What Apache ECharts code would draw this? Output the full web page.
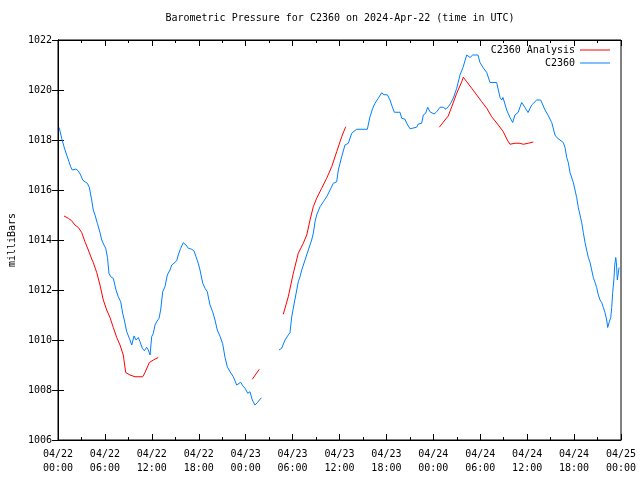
<!DOCTYPE html>
<html>
<head>
<meta charset="utf-8">
<script src="https://cdn.jsdelivr.net/npm/echarts@6/dist/echarts.min.js"></script>
<style>html,body{margin:0;padding:0;background:#fff}#c{width:640px;height:480px}</style>
</head>
<body>
<div id="c"></div>
<script>
// Time in hours since 2024-04-22 00:00 UTC; null marks a data gap
var obsHours = [0.15,0.47,0.77,1.11,1.41,1.62,1.83,2.05,2.30,2.60,2.90,3.16,3.45,3.75,4.00,4.31,4.51,4.73,5.03,5.37,5.59,5.88,6.10,6.33,6.52,6.74,7.07,7.42,7.71,8.02,8.27,8.48,8.79,9.12,9.43,9.72,9.98,10.27,10.49,10.78,11.04,11.34,11.55,11.77,11.98,12.19,12.41,12.62,12.92,13.13,13.39,13.68,13.98,14.32,14.54,14.83,15.18,15.38,15.69,16.02,16.37,16.66,17.10,17.39,17.65,17.94,18.16,18.51,18.80,19.09,19.44,19.78,20.08,20.37,20.72,21.06,21.36,21.65,22.00,22.42,22.85,23.06,23.37,23.62,23.92,24.26,24.55,24.85,25.19,25.49,25.74,26.00,
27.0,
28.26,28.61,29.03,29.45,29.67,29.89,30.09,30.31,30.53,30.73,30.95,31.17,31.59,32.01,32.44,32.65,32.87,33.08,33.51,33.93,34.36,34.79,35.21,35.64,35.85,36.28,36.70,37.13,37.56,38.20,39.56,39.90,40.25,40.54,40.96,41.40,41.69,42.11,42.46,42.75,43.01,43.74,43.95,44.38,44.59,45.02,45.23,45.87,46.08,46.51,46.72,47.02,47.28,47.57,48.09,48.43,48.85,49.27,49.62,49.91,50.22,50.55,50.99,51.41,51.79,52.27,52.69,53.04,53.71,53.97,54.35,54.83,55.25,55.63,56.10,56.53,56.74,56.91,57.38,57.80,58.15,58.44,58.83,59.30,59.72,60.11,60.58,61.22,61.73,62.28,62.66,63.14,63.56,63.78,64.20,64.62,64.84,65.06,65.26,65.48,65.90,66.12,66.33,66.54,66.76,66.97,67.18,67.40,67.61,67.82,68.04,68.25,68.46,68.68,68.89,69.10,69.32,69.53,69.74,69.95,70.17,70.30,70.47,70.69,70.81,70.94,71.11,71.20,71.33,71.41,71.53,71.62,71.75];
var obsPressure = [1018.5,1018.07,1017.73,1017.4,1017.13,1016.93,1016.8,1016.73,1016.84,1016.76,1016.6,1016.4,1016.33,1016.27,1016.11,1015.6,1015.2,1015.0,1014.67,1014.3,1014.0,1013.8,1013.67,1013.3,1012.67,1012.53,1012.47,1012.0,1011.73,1011.53,1011.07,1010.8,1010.33,1010.07,1009.8,1010.16,1010.0,1010.1,1009.93,1009.67,1009.57,1009.71,1009.6,1009.4,1010.13,1010.27,1010.6,1010.73,1010.87,1011.2,1011.93,1012.13,1012.6,1012.8,1013.0,1013.07,1013.17,1013.4,1013.67,1013.89,1013.8,1013.67,1013.63,1013.57,1013.33,1013.07,1012.8,1012.27,1012.07,1011.93,1011.4,1011.13,1010.8,1010.4,1010.15,1009.85,1009.3,1008.93,1008.73,1008.53,1008.2,1008.2,1008.31,1008.17,1008.07,1007.87,1007.93,1007.6,1007.4,1007.49,1007.53,1007.69,
null,
1009.6,1009.67,1010.0,1010.2,1010.3,1010.93,1011.27,1011.33,1012.0,1012.33,1012.53,1012.8,1013.2,1013.6,1014.0,1014.27,1014.73,1015.0,1015.33,1015.53,1015.73,1016.0,1016.27,1016.33,1016.8,1017.33,1017.8,1017.87,1018.27,1018.43,1018.43,1018.93,1019.27,1019.47,1019.67,1019.89,1019.81,1019.81,1019.6,1019.33,1019.11,1019.11,1018.87,1018.83,1018.67,1018.45,1018.51,1018.51,1018.64,1018.67,1019.0,1019.07,1019.31,1019.13,1019.04,1019.13,1019.31,1019.31,1019.23,1019.33,1019.47,1019.67,1020.07,1020.6,1020.9,1021.4,1021.3,1021.4,1021.4,1021.1,1020.9,1020.7,1020.3,1020.3,1020.3,1019.7,1019.6,1019.7,1019.2,1018.9,1018.7,1019.0,1019.1,1019.5,1019.3,1019.1,1019.4,1019.6,1019.6,1019.2,1019.0,1018.7,1018.2,1018.1,1018.0,1017.9,1017.7,1017.3,1017.1,1016.7,1016.3,1016.0,1015.7,1015.3,1015.0,1014.7,1014.3,1013.9,1013.6,1013.3,1013.1,1012.8,1012.5,1012.3,1012.1,1011.8,1011.6,1011.5,1011.3,1011.1,1010.8,1010.5,1010.7,1010.9,1011.3,1011.9,1012.5,1013.0,1013.3,1013.1,1012.4,1012.6,1012.9];

var anaHours = [0.77,1.32,1.75,2.17,2.60,3.03,3.45,3.88,4.31,4.51,4.95,5.37,5.79,6.23,6.65,7.07,7.51,7.93,8.35,8.66,9.21,9.85,10.83,11.13,11.68,12.19,12.83,
18.0,
24.85,25.74,
27.0,
28.81,29.45,30.09,30.73,31.37,31.81,32.23,32.65,33.08,33.72,34.36,35.00,35.64,36.28,36.79,
42.0,
48.76,49.49,49.91,50.35,50.99,51.63,51.83,52.27,52.91,53.55,54.19,54.83,55.46,56.31,56.95,57.46,57.80,58.44,59.08,59.50,60.15,60.78];
var anaPressure = [1014.96,1014.87,1014.77,1014.6,1014.5,1014.3,1013.93,1013.6,1013.24,1013.1,1012.7,1012.2,1011.6,1011.2,1010.9,1010.5,1010.1,1009.8,1009.4,1008.7,1008.6,1008.53,1008.53,1008.7,1009.1,1009.2,1009.3,
null,
1008.43,1008.83,
null,
1011.03,1011.73,1012.67,1013.47,1013.87,1014.2,1014.8,1015.33,1015.67,1016.07,1016.47,1016.93,1017.53,1018.13,1018.53,
null,
1018.51,1018.8,1018.96,1019.33,1019.87,1020.33,1020.51,1020.33,1020.07,1019.8,1019.53,1019.27,1018.93,1018.6,1018.33,1018.0,1017.83,1017.87,1017.87,1017.83,1017.87,1017.92];

var xTickLabels = ["04/22\n00:00","04/22\n06:00","04/22\n12:00","04/22\n18:00","04/23\n00:00","04/23\n06:00","04/23\n12:00","04/23\n18:00","04/24\n00:00","04/24\n06:00","04/24\n12:00","04/24\n18:00","04/25\n00:00"];

function pairs(xs, ys){ var out=[]; for(var i=0;i<xs.length;i++){ out.push([xs[i], ys[i]===null ? '-' : ys[i]]); } return out; }

var FONT = 'DejaVu Sans Mono';
var chart = echarts.init(document.getElementById('c'), null, {renderer:'canvas'});
var xCommon = {
  type:'value', min:0, max:72, interval:6,
  axisLine:{show:true, lineStyle:{color:'#000', width:1}},
  axisTick:{show:true, inside:true, length:6, lineStyle:{color:'#000'}},
  minorTick:{show:true, splitNumber:2, length:3, lineStyle:{color:'#000'}},
  splitLine:{show:false}, minorSplitLine:{show:false}
};
var yCommon = {
  type:'value', min:1006, max:1022, interval:2,
  axisLine:{show:true, lineStyle:{color:'#000', width:1}},
  axisTick:{show:true, inside:true, length:6, lineStyle:{color:'#000'}},
  splitLine:{show:false}
};
chart.setOption({
  animation:false,
  backgroundColor:'#fff',
  title:{
    text:'Barometric Pressure for C2360 on 2024-Apr-22 (time in UTC)',
    left:340, top:13, textAlign:'center', padding:0,
    textStyle:{fontFamily:FONT, fontSize:10, fontWeight:'normal', color:'#000'}
  },
  legend:{
    orient:'vertical', right:30, top:44, align:'right',
    icon:'rect', itemWidth:30, itemHeight:1, itemGap:1, padding:0,
    data:['C2360 Analysis','C2360'],
    textStyle:{fontFamily:FONT, fontSize:10, color:'#000', lineHeight:12}
  },
  grid:{left:58, right:19, top:40, bottom:40, containLabel:false, outerBoundsMode:'none',
    show:true, borderColor:'#000', borderWidth:1, backgroundColor:'transparent'},
  xAxis:[
    Object.assign({}, xCommon, {position:'bottom',
      axisLabel:{show:true, margin:7, fontFamily:FONT, fontSize:10, color:'#000', lineHeight:14,
        formatter:function(v){ var i=Math.round(v/6); return xTickLabels[i]; }}}),
    Object.assign({}, xCommon, {position:'top', axisLabel:{show:false}})
  ],
  yAxis:[
    Object.assign({}, yCommon, {position:'left', name:'milliBars', nameLocation:'middle', nameGap:41,
      nameTextStyle:{fontFamily:FONT, fontSize:10, color:'#000'},
      axisLabel:{show:true, margin:6, fontFamily:FONT, fontSize:10, color:'#000',
        formatter:function(v){ return String(v); }}}),
    Object.assign({}, yCommon, {position:'right', axisLabel:{show:false}})
  ],
  series:[
    {name:'C2360 Analysis', type:'line', data:pairs(anaHours, anaPressure), symbol:'none', connectNulls:false,
      lineStyle:{color:'#ff0000', width:1}, itemStyle:{color:'#ff0000'}},
    {name:'C2360', type:'line', data:pairs(obsHours, obsPressure), symbol:'none', connectNulls:false,
      lineStyle:{color:'#0080ff', width:1}, itemStyle:{color:'#0080ff'}}
  ]
});
</script>
</body>
</html>
